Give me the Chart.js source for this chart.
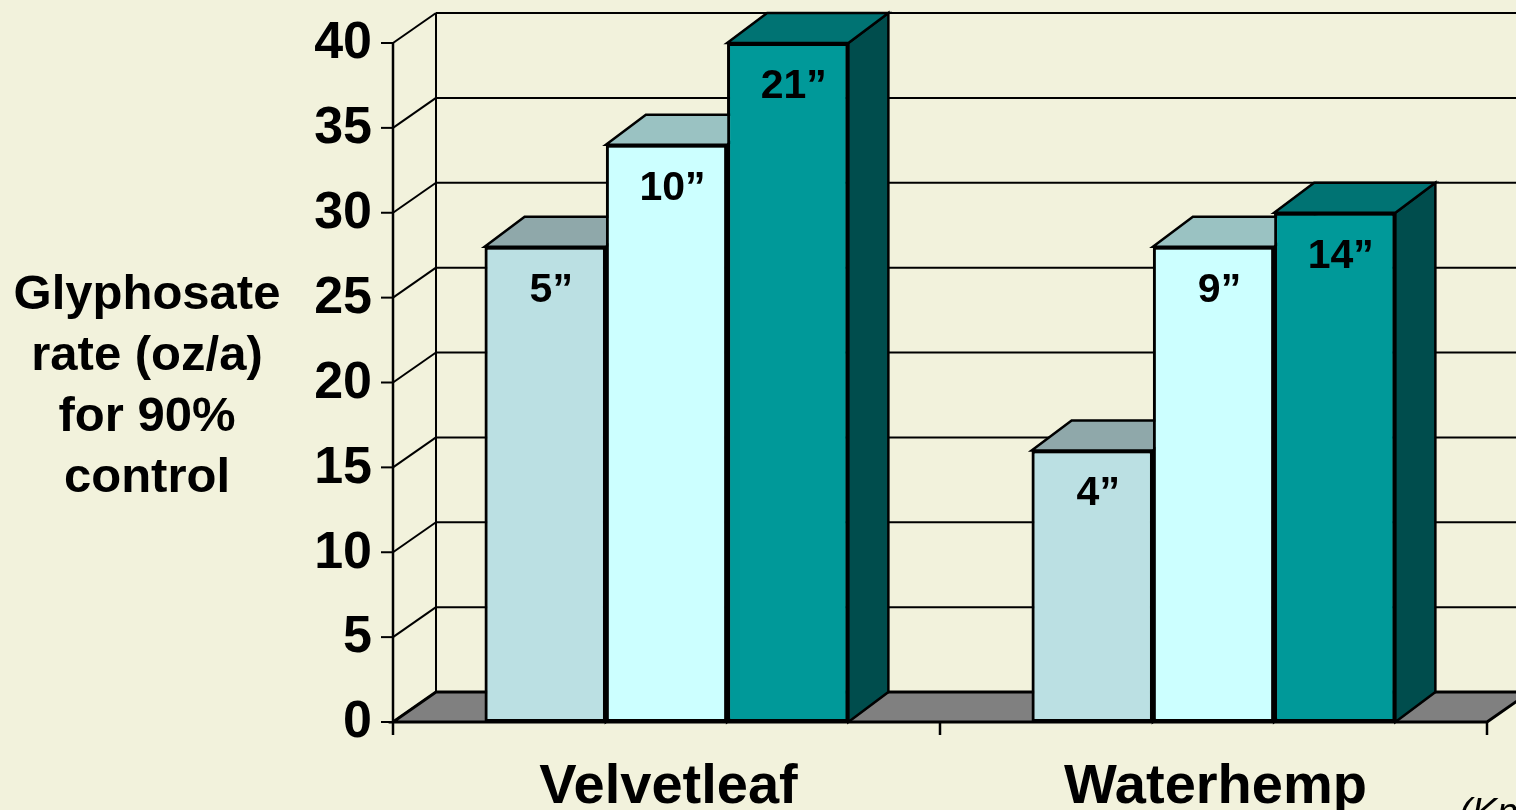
<!DOCTYPE html>
<html>
<head>
<meta charset="utf-8">
<script src="https://cdn.jsdelivr.net/npm/chart.js@4.4.0/dist/chart.umd.min.js"></script>
<style>
  html, body { margin: 0; padding: 0; background: #F2F2DC; }
  #wrap { width: 1516px; height: 810px; position: relative; overflow: hidden; }
</style>
</head>
<body>
<div id="wrap"><canvas id="chart"></canvas></div>
<script>
// DATA
// ============================================================
const categories  = ['Velvetleaf', 'Waterhemp'];
const shortPlants = [28, 16];
const midPlants   = [34, 28];
const tallPlants  = [40, 30];
const shortLabels = ['5”', '4”'];
const midLabels   = ['10”', '9”'];
const tallLabels  = ['21”', '14”'];
const yTicks      = [0, 5, 10, 15, 20, 25, 30, 35, 40];
const yTitle      = ['Glyphosate', 'rate (oz/a)', 'for 90%', 'control'];
const sourceNote  = '(Knezevic et al.)';

// 3D look
// ============================================================
const WALL_DX = 43, WALL_DY = -30;  // back wall offset
const BAR_DX = 40,  BAR_DY = -30;   // bar depth
const FONT = '"Liberation Sans", Arial, sans-serif';

function line(ctx, x1, y1, x2, y2) {
  ctx.beginPath(); ctx.moveTo(x1, y1); ctx.lineTo(x2, y2); ctx.stroke();
}
function poly(ctx, pts, fill) {
  ctx.beginPath();
  pts.forEach(([px, py], i) => i ? ctx.lineTo(px, py) : ctx.moveTo(px, py));
  ctx.closePath();
  ctx.fillStyle = fill; ctx.fill(); ctx.stroke();
}

const depthPlugin = {
  id: 'depth',
  beforeDatasetsDraw(chart) {
    const { ctx, chartArea: a, scales: { x, y } } = chart;
    const y0 = y.getPixelForValue(0);
    ctx.save();
    ctx.strokeStyle = '#000'; ctx.lineWidth = 2; ctx.lineJoin = 'miter';

    // back wall grid + side wall diagonals + tick marks
    yTicks.forEach(v => {
      const py = y.getPixelForValue(v);
      line(ctx, a.left - 12, py, a.left, py);
      line(ctx, a.left, py, a.left + WALL_DX, py + WALL_DY);
      if (v > 0) line(ctx, a.left + WALL_DX, py + WALL_DY, chart.width + 20, py + WALL_DY);
    });
    const yTop = y.getPixelForValue(yTicks[yTicks.length - 1]);
    line(ctx, a.left + WALL_DX, y0 + WALL_DY, a.left + WALL_DX, yTop + WALL_DY);

    // floor
    ctx.lineWidth = 3;
    poly(ctx, [[a.left, y0], [a.right, y0], [a.right + WALL_DX, y0 + WALL_DY], [a.left + WALL_DX, y0 + WALL_DY]], '#808080');

    // front axes
    ctx.lineWidth = 2.5;
    line(ctx, a.left, y0, a.left, yTop);
    const step = x.getPixelForValue(1) - x.getPixelForValue(0);
    const bounds = [x.getPixelForValue(0) - step / 2].concat(categories.map((c, i) => x.getPixelForValue(i) + step / 2));
    bounds.forEach(bx => line(ctx, bx, y0, bx, y0 + 13));
    ctx.restore();
  },
  afterDatasetsDraw(chart) {
    // redraw every bar left to right so later fronts cover earlier tops/sides
    const { ctx } = chart;
    ctx.save();
    chart.data.datasets.forEach((ds, di) => {
      chart.getDatasetMeta(di).data.forEach(bar => {
        bar.draw(ctx);
        const l = bar.x - bar.width / 2, r = bar.x + bar.width / 2, t = bar.y, b = bar.base;
        ctx.strokeStyle = '#000'; ctx.lineWidth = 2.5; ctx.lineJoin = 'miter';
        poly(ctx, [[r, t], [r + BAR_DX, t + BAR_DY], [r + BAR_DX, b + BAR_DY], [r, b]], ds.sideColor);
        poly(ctx, [[l, t], [r, t], [r + BAR_DX, t + BAR_DY], [l + BAR_DX, t + BAR_DY]], ds.topColor);
      });
    });
    ctx.restore();
  },
  afterDraw(chart) {
    const { ctx, scales: { x, y } } = chart;
    ctx.save();
    ctx.fillStyle = '#000';

    // bar labels
    ctx.font = `bold 41px ${FONT}`;
    ctx.textAlign = 'center'; ctx.textBaseline = 'alphabetic';
    chart.data.datasets.forEach((ds, di) => {
      chart.getDatasetMeta(di).data.forEach((bar, i) => {
        ctx.fillText(ds.heightLabels[i], bar.x + 6, bar.y + 55);
      });
    });

    // y tick labels
    ctx.font = `bold 52px ${FONT}`;
    ctx.textAlign = 'right'; ctx.textBaseline = 'middle';
    yTicks.forEach(v => ctx.fillText(String(v), 372, y.getPixelForValue(v) + 1));

    // category labels
    ctx.font = `bold 56px ${FONT}`;
    ctx.textAlign = 'center'; ctx.textBaseline = 'alphabetic';
    categories.forEach((c, i) => ctx.fillText(c, x.getPixelForValue(i) + 2, 803));

    // y title
    ctx.font = `bold 49px ${FONT}`;
    yTitle.forEach((t, i) => ctx.fillText(t, 147, 309 + i * 61));

    // source note (cut by the frame)
    ctx.font = `italic 38px ${FONT}`;
    ctx.textAlign = 'left';
    ctx.fillText(sourceNote, 1459, 825);
    ctx.restore();
  }
};

new Chart(document.getElementById('chart'), {
  type: 'bar',
  data: {
    labels: categories,
    datasets: [
      { data: shortPlants, heightLabels: shortLabels, backgroundColor: '#BBE0E3', topColor: '#8FA8AA', sideColor: '#5E7072' },
      { data: midPlants,   heightLabels: midLabels,   backgroundColor: '#CCFFFF', topColor: '#9AC2C2', sideColor: '#668080' },
      { data: tallPlants,  heightLabels: tallLabels,  backgroundColor: '#009999', topColor: '#007373', sideColor: '#004D4D' },
    ].map(d => Object.assign(d, {
      borderColor: '#000', borderWidth: 3, borderSkipped: false,
      categoryPercentage: 0.665, barPercentage: 1.0, clip: false,
    }))
  },
  options: {
    responsive: true, maintainAspectRatio: false, animation: false,
    layout: { padding: { left: 393, right: 29, top: 43, bottom: 88 } },
    scales: {
      x: { display: false, offset: true },
      y: { display: false, min: 0, max: 40 }
    },
    plugins: { legend: { display: false }, tooltip: { enabled: false } }
  },
  plugins: [depthPlugin]
});
</script>
</body>
</html>
